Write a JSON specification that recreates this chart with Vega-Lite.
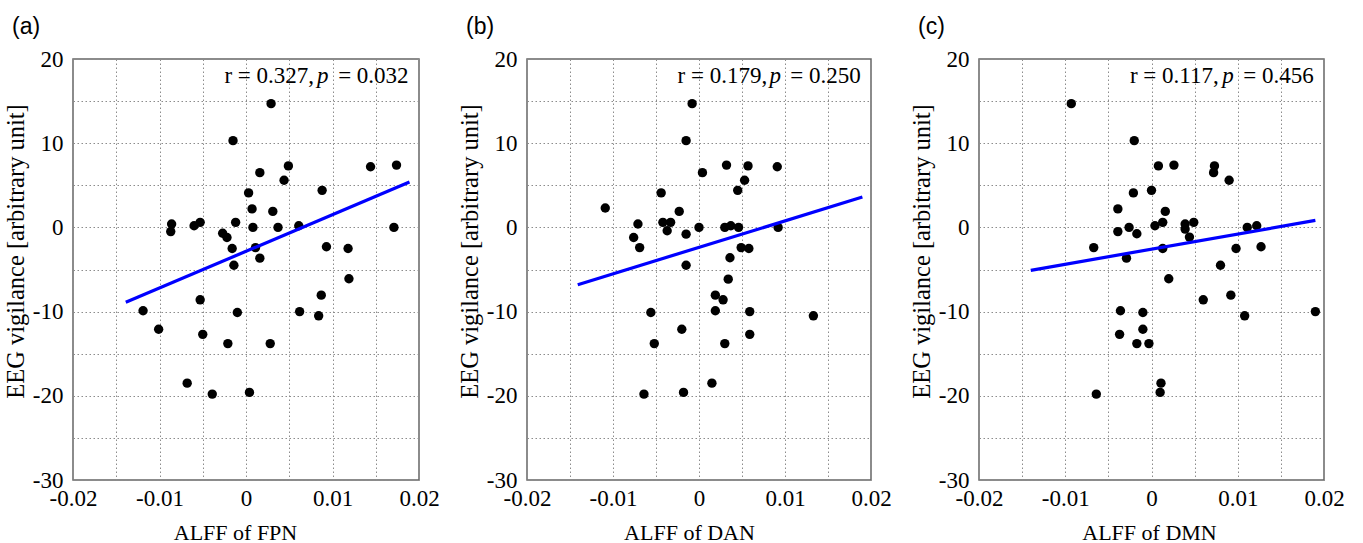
{
  "$schema": "https://vega.github.io/schema/vega-lite/v6.json",
  "padding": {"left": 2, "top": 15, "right": 5, "bottom": 0},
  "background": "white",
  "spacing": 108,
  "bounds": "flush",
  "datasets": {
    "points": [
      {"panel": "a", "alff": -0.0086, "eeg": 0.4}, {"panel": "a", "alff": -0.0087, "eeg": -0.5}, {"panel": "a", "alff": -0.0060, "eeg": 0.2}, {"panel": "a", "alff": -0.0053, "eeg": 0.6},
      {"panel": "a", "alff": -0.0027, "eeg": -0.7}, {"panel": "a", "alff": -0.0022, "eeg": -1.2}, {"panel": "a", "alff": -0.0016, "eeg": -2.5}, {"panel": "a", "alff": -0.0015, "eeg": 10.3},
      {"panel": "a", "alff": -0.0012, "eeg": 0.6}, {"panel": "a", "alff": -0.0014, "eeg": -4.5}, {"panel": "a", "alff": 0.0003, "eeg": 4.1}, {"panel": "a", "alff": 0.0007, "eeg": 2.2},
      {"panel": "a", "alff": 0.0008, "eeg": 0.0}, {"panel": "a", "alff": 0.0011, "eeg": -2.4}, {"panel": "a", "alff": 0.0016, "eeg": -3.65}, {"panel": "a", "alff": 0.0016, "eeg": 6.5},
      {"panel": "a", "alff": 0.0029, "eeg": 14.7}, {"panel": "a", "alff": 0.0031, "eeg": 1.9}, {"panel": "a", "alff": 0.0037, "eeg": 0.0}, {"panel": "a", "alff": 0.0044, "eeg": 5.6},
      {"panel": "a", "alff": 0.0049, "eeg": 7.3}, {"panel": "a", "alff": 0.0061, "eeg": 0.2}, {"panel": "a", "alff": 0.0088, "eeg": 4.4}, {"panel": "a", "alff": 0.0093, "eeg": -2.3},
      {"panel": "a", "alff": 0.0118, "eeg": -2.5}, {"panel": "a", "alff": 0.0144, "eeg": 7.2}, {"panel": "a", "alff": 0.0174, "eeg": 7.4}, {"panel": "a", "alff": 0.0171, "eeg": 0.0},
      {"panel": "a", "alff": 0.0119, "eeg": -6.1}, {"panel": "a", "alff": 0.0087, "eeg": -8.05}, {"panel": "a", "alff": -0.0053, "eeg": -8.6}, {"panel": "a", "alff": -0.0119, "eeg": -9.9},
      {"panel": "a", "alff": -0.0010, "eeg": -10.1}, {"panel": "a", "alff": 0.0062, "eeg": -10.0}, {"panel": "a", "alff": 0.0084, "eeg": -10.5}, {"panel": "a", "alff": -0.0101, "eeg": -12.1},
      {"panel": "a", "alff": -0.0050, "eeg": -12.7}, {"panel": "a", "alff": -0.0021, "eeg": -13.8}, {"panel": "a", "alff": 0.0028, "eeg": -13.8}, {"panel": "a", "alff": -0.0068, "eeg": -18.5},
      {"panel": "a", "alff": -0.0039, "eeg": -19.8}, {"panel": "a", "alff": 0.0004, "eeg": -19.6},

      {"panel": "b", "alff": -0.0109, "eeg": 2.3}, {"panel": "b", "alff": -0.0071, "eeg": 0.4}, {"panel": "b", "alff": -0.0076, "eeg": -1.2}, {"panel": "b", "alff": -0.0069, "eeg": -2.4},
      {"panel": "b", "alff": -0.0044, "eeg": 4.1}, {"panel": "b", "alff": -0.0042, "eeg": 0.6}, {"panel": "b", "alff": -0.0037, "eeg": -0.4}, {"panel": "b", "alff": -0.0033, "eeg": 0.6},
      {"panel": "b", "alff": -0.0023, "eeg": 1.9}, {"panel": "b", "alff": -0.0015, "eeg": 10.3}, {"panel": "b", "alff": -0.0015, "eeg": -0.8}, {"panel": "b", "alff": -0.0015, "eeg": -4.5},
      {"panel": "b", "alff": -0.0008, "eeg": 14.7}, {"panel": "b", "alff": 0.0000, "eeg": 0.0}, {"panel": "b", "alff": 0.0004, "eeg": 6.5}, {"panel": "b", "alff": 0.0030, "eeg": 0.0},
      {"panel": "b", "alff": 0.0032, "eeg": 7.4}, {"panel": "b", "alff": 0.0037, "eeg": 0.2}, {"panel": "b", "alff": 0.0036, "eeg": -3.6}, {"panel": "b", "alff": 0.0046, "eeg": 0.0},
      {"panel": "b", "alff": 0.0045, "eeg": 4.4}, {"panel": "b", "alff": 0.0049, "eeg": -2.4}, {"panel": "b", "alff": 0.0058, "eeg": -2.5}, {"panel": "b", "alff": 0.0053, "eeg": 5.6},
      {"panel": "b", "alff": 0.0057, "eeg": 7.3}, {"panel": "b", "alff": 0.0091, "eeg": 7.2}, {"panel": "b", "alff": 0.0092, "eeg": 0.0},
      {"panel": "b", "alff": 0.0034, "eeg": -6.15}, {"panel": "b", "alff": 0.0019, "eeg": -8.05}, {"panel": "b", "alff": 0.0028, "eeg": -8.6}, {"panel": "b", "alff": -0.0056, "eeg": -10.1},
      {"panel": "b", "alff": 0.0019, "eeg": -9.9}, {"panel": "b", "alff": 0.0059, "eeg": -10.0}, {"panel": "b", "alff": 0.0133, "eeg": -10.5}, {"panel": "b", "alff": -0.0020, "eeg": -12.1},
      {"panel": "b", "alff": 0.0059, "eeg": -12.7}, {"panel": "b", "alff": -0.0052, "eeg": -13.8}, {"panel": "b", "alff": 0.0030, "eeg": -13.8}, {"panel": "b", "alff": 0.0015, "eeg": -18.5},
      {"panel": "b", "alff": -0.0064, "eeg": -19.8}, {"panel": "b", "alff": -0.0018, "eeg": -19.6},

      {"panel": "c", "alff": -0.0093, "eeg": 14.7}, {"panel": "c", "alff": -0.0067, "eeg": -2.4}, {"panel": "c", "alff": -0.0039, "eeg": 2.2}, {"panel": "c", "alff": -0.0039, "eeg": -0.5},
      {"panel": "c", "alff": -0.0026, "eeg": 0.0}, {"panel": "c", "alff": -0.0017, "eeg": -0.75}, {"panel": "c", "alff": -0.0021, "eeg": 4.1}, {"panel": "c", "alff": -0.0020, "eeg": 10.3},
      {"panel": "c", "alff": -0.0029, "eeg": -3.65}, {"panel": "c", "alff": 0.0000, "eeg": 4.4}, {"panel": "c", "alff": 0.0004, "eeg": 0.2}, {"panel": "c", "alff": 0.0008, "eeg": 7.3},
      {"panel": "c", "alff": 0.0013, "eeg": 0.6}, {"panel": "c", "alff": 0.0016, "eeg": 1.9}, {"panel": "c", "alff": 0.0013, "eeg": -2.5}, {"panel": "c", "alff": 0.0026, "eeg": 7.4},
      {"panel": "c", "alff": 0.0039, "eeg": 0.4}, {"panel": "c", "alff": 0.0039, "eeg": -0.2}, {"panel": "c", "alff": 0.0049, "eeg": 0.6}, {"panel": "c", "alff": 0.0044, "eeg": -1.15},
      {"panel": "c", "alff": 0.0073, "eeg": 7.3}, {"panel": "c", "alff": 0.0072, "eeg": 6.5}, {"panel": "c", "alff": 0.0090, "eeg": 5.6}, {"panel": "c", "alff": 0.0080, "eeg": -4.5},
      {"panel": "c", "alff": 0.0098, "eeg": -2.5}, {"panel": "c", "alff": 0.0111, "eeg": 0.0}, {"panel": "c", "alff": 0.0122, "eeg": 0.2}, {"panel": "c", "alff": 0.0127, "eeg": -2.3},
      {"panel": "c", "alff": 0.0020, "eeg": -6.1}, {"panel": "c", "alff": 0.0060, "eeg": -8.6}, {"panel": "c", "alff": 0.0092, "eeg": -8.05}, {"panel": "c", "alff": -0.0036, "eeg": -9.9},
      {"panel": "c", "alff": -0.0010, "eeg": -10.1}, {"panel": "c", "alff": 0.0108, "eeg": -10.5}, {"panel": "c", "alff": 0.0190, "eeg": -10.0}, {"panel": "c", "alff": -0.0010, "eeg": -12.1},
      {"panel": "c", "alff": -0.0037, "eeg": -12.7}, {"panel": "c", "alff": -0.0017, "eeg": -13.8}, {"panel": "c", "alff": -0.0003, "eeg": -13.8}, {"panel": "c", "alff": 0.0011, "eeg": -18.5},
      {"panel": "c", "alff": 0.0010, "eeg": -19.6}, {"panel": "c", "alff": -0.0064, "eeg": -19.8}
    ],
    "fits": [
      {"panel": "a", "alff": -0.0139, "eeg": -8.9}, {"panel": "a", "alff": 0.0189, "eeg": 5.4},
      {"panel": "b", "alff": -0.0141, "eeg": -6.8}, {"panel": "b", "alff": 0.0190, "eeg": 3.6},
      {"panel": "c", "alff": -0.0140, "eeg": -5.1}, {"panel": "c", "alff": 0.0190, "eeg": 0.83}
    ],
    "stats": [
      {"panel": "a", "rtext": "r = 0.327,", "ptext": "= 0.032"},
      {"panel": "b", "rtext": "r = 0.179,", "ptext": "= 0.250"},
      {"panel": "c", "rtext": "r = 0.117,", "ptext": "= 0.456"}
    ]
  },
  "hconcat": [
    {
      "width": 346, "height": 421,
      "title": {"text": "(a)"},
      "layer": [
        {"data": {"name": "points"}, "transform": [{"filter": "datum.panel == 'a'"}],
         "mark": {"type": "circle", "size": 88, "color": "black", "opacity": 1},
         "encoding": {
           "x": {"field": "alff", "type": "quantitative", "scale": {"domain": [-0.02, 0.02], "nice": false, "zero": false},
                 "axis": {"title": "ALFF of FPN", "titleX": 162, "values": [-0.02, -0.015, -0.01, -0.005, 0, 0.005, 0.01, 0.015, 0.02], "labelExpr": "round(datum.value*1000) % 10 == 0 ? toString(datum.value) : ''"}},
           "y": {"field": "eeg", "type": "quantitative", "scale": {"domain": [-30, 20], "nice": false, "zero": false},
                 "axis": {"title": "EEG vigilance [arbitrary unit]", "values": [-30, -25, -20, -15, -10, -5, 0, 5, 10, 15, 20], "labelExpr": "datum.value % 10 == 0 ? toString(datum.value) : ''"}}
         }},
        {"data": {"name": "fits"}, "transform": [{"filter": "datum.panel == 'a'"}],
         "mark": {"type": "line", "color": "#0000ff", "strokeWidth": 3.2},
         "encoding": {"x": {"field": "alff", "type": "quantitative"}, "y": {"field": "eeg", "type": "quantitative"}}},
        {"data": {"name": "stats"}, "transform": [{"filter": "datum.panel == 'a'"}],
         "mark": {"type": "text", "align": "left", "baseline": "alphabetic", "font": "Liberation Serif", "fontSize": 23, "color": "black"},
         "encoding": {"x": {"datum": -0.0025}, "y": {"datum": 17.2}, "text": {"field": "rtext"}}},
        {"data": {"name": "stats"}, "transform": [{"filter": "datum.panel == 'a'"}],
         "mark": {"type": "text", "align": "left", "baseline": "alphabetic", "font": "Liberation Serif", "fontSize": 23, "fontStyle": "italic", "color": "black"},
         "encoding": {"x": {"datum": 0.0082}, "y": {"datum": 17.2}, "text": {"value": "p"}}},
        {"data": {"name": "stats"}, "transform": [{"filter": "datum.panel == 'a'"}],
         "mark": {"type": "text", "align": "right", "baseline": "alphabetic", "font": "Liberation Serif", "fontSize": 23, "color": "black"},
         "encoding": {"x": {"datum": 0.0188}, "y": {"datum": 17.2}, "text": {"field": "ptext"}}}
      ]
    },
    {
      "width": 344, "height": 421,
      "title": {"text": "(b)"},
      "layer": [
        {"data": {"name": "points"}, "transform": [{"filter": "datum.panel == 'b'"}],
         "mark": {"type": "circle", "size": 88, "color": "black", "opacity": 1},
         "encoding": {
           "x": {"field": "alff", "type": "quantitative", "scale": {"domain": [-0.02, 0.02], "nice": false, "zero": false},
                 "axis": {"title": "ALFF of DAN", "titleX": 162, "values": [-0.02, -0.015, -0.01, -0.005, 0, 0.005, 0.01, 0.015, 0.02], "labelExpr": "round(datum.value*1000) % 10 == 0 ? toString(datum.value) : ''"}},
           "y": {"field": "eeg", "type": "quantitative", "scale": {"domain": [-30, 20], "nice": false, "zero": false},
                 "axis": {"title": "EEG vigilance [arbitrary unit]", "values": [-30, -25, -20, -15, -10, -5, 0, 5, 10, 15, 20], "labelExpr": "datum.value % 10 == 0 ? toString(datum.value) : ''"}}
         }},
        {"data": {"name": "fits"}, "transform": [{"filter": "datum.panel == 'b'"}],
         "mark": {"type": "line", "color": "#0000ff", "strokeWidth": 3.2},
         "encoding": {"x": {"field": "alff", "type": "quantitative"}, "y": {"field": "eeg", "type": "quantitative"}}},
        {"data": {"name": "stats"}, "transform": [{"filter": "datum.panel == 'b'"}],
         "mark": {"type": "text", "align": "left", "baseline": "alphabetic", "font": "Liberation Serif", "fontSize": 23, "color": "black"},
         "encoding": {"x": {"datum": -0.0025}, "y": {"datum": 17.2}, "text": {"field": "rtext"}}},
        {"data": {"name": "stats"}, "transform": [{"filter": "datum.panel == 'b'"}],
         "mark": {"type": "text", "align": "left", "baseline": "alphabetic", "font": "Liberation Serif", "fontSize": 23, "fontStyle": "italic", "color": "black"},
         "encoding": {"x": {"datum": 0.0082}, "y": {"datum": 17.2}, "text": {"value": "p"}}},
        {"data": {"name": "stats"}, "transform": [{"filter": "datum.panel == 'b'"}],
         "mark": {"type": "text", "align": "right", "baseline": "alphabetic", "font": "Liberation Serif", "fontSize": 23, "color": "black"},
         "encoding": {"x": {"datum": 0.0188}, "y": {"datum": 17.2}, "text": {"field": "ptext"}}}
      ]
    },
    {
      "width": 345, "height": 421,
      "title": {"text": "(c)"},
      "layer": [
        {"data": {"name": "points"}, "transform": [{"filter": "datum.panel == 'c'"}],
         "mark": {"type": "circle", "size": 88, "color": "black", "opacity": 1},
         "encoding": {
           "x": {"field": "alff", "type": "quantitative", "scale": {"domain": [-0.02, 0.02], "nice": false, "zero": false},
                 "axis": {"title": "ALFF of DMN", "titleX": 170, "values": [-0.02, -0.015, -0.01, -0.005, 0, 0.005, 0.01, 0.015, 0.02], "labelExpr": "round(datum.value*1000) % 10 == 0 ? toString(datum.value) : ''"}},
           "y": {"field": "eeg", "type": "quantitative", "scale": {"domain": [-30, 20], "nice": false, "zero": false},
                 "axis": {"title": "EEG vigilance [arbitrary unit]", "values": [-30, -25, -20, -15, -10, -5, 0, 5, 10, 15, 20], "labelExpr": "datum.value % 10 == 0 ? toString(datum.value) : ''"}}
         }},
        {"data": {"name": "fits"}, "transform": [{"filter": "datum.panel == 'c'"}],
         "mark": {"type": "line", "color": "#0000ff", "strokeWidth": 3.2},
         "encoding": {"x": {"field": "alff", "type": "quantitative"}, "y": {"field": "eeg", "type": "quantitative"}}},
        {"data": {"name": "stats"}, "transform": [{"filter": "datum.panel == 'c'"}],
         "mark": {"type": "text", "align": "left", "baseline": "alphabetic", "font": "Liberation Serif", "fontSize": 23, "color": "black"},
         "encoding": {"x": {"datum": -0.0025}, "y": {"datum": 17.2}, "text": {"field": "rtext"}}},
        {"data": {"name": "stats"}, "transform": [{"filter": "datum.panel == 'c'"}],
         "mark": {"type": "text", "align": "left", "baseline": "alphabetic", "font": "Liberation Serif", "fontSize": 23, "fontStyle": "italic", "color": "black"},
         "encoding": {"x": {"datum": 0.0082}, "y": {"datum": 17.2}, "text": {"value": "p"}}},
        {"data": {"name": "stats"}, "transform": [{"filter": "datum.panel == 'c'"}],
         "mark": {"type": "text", "align": "right", "baseline": "alphabetic", "font": "Liberation Serif", "fontSize": 23, "color": "black"},
         "encoding": {"x": {"datum": 0.0188}, "y": {"datum": 17.2}, "text": {"field": "ptext"}}}
      ]
    }
  ],
  "config": {
    "view": {"stroke": "#666666", "strokeWidth": 1.5},
    "title": {"font": "Liberation Sans", "fontSize": 23, "fontWeight": "normal", "color": "black", "anchor": "start", "frame": "group", "dx": -61, "offset": 9, "baseline": "alphabetic"},
    "axis": {
      "domain": false,
      "ticks": false,
      "tickSize": 0,
      "grid": true,
      "gridColor": "#8c8c8c",
      "gridDash": [1.5, 2.5],
      "gridWidth": 1,
      "labelFont": "Liberation Serif",
      "labelFontSize": 23,
      "labelColor": "black",
      "labelFlush": false,
      "labelOverlap": false,
      "labelBound": false,
      "titleFont": "Liberation Serif",
      "titleFontSize": 22,
      "titleFontWeight": "normal",
      "titleColor": "black"
    },
    "axisX": {"labelPadding": 7, "titleY": 59, "titleBaseline": "alphabetic", "titleAlign": "center"},
    "axisY": {"labelPadding": 10, "titleX": -50, "titleY": 192, "titleFontSize": 24.5, "titleAngle": -90, "titleBaseline": "alphabetic", "titleAlign": "center"}
  }
}
